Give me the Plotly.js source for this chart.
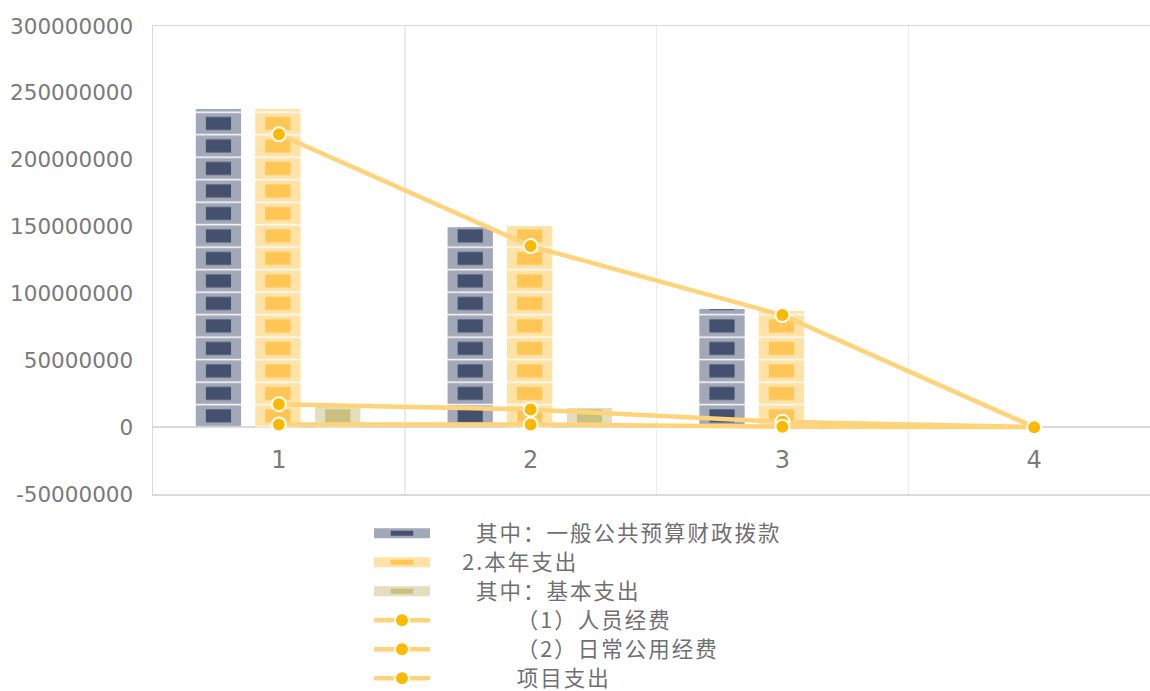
<!DOCTYPE html>
<html>
<head>
<meta charset="utf-8">
<script src="https://cdn.plot.ly/plotly-3.0.1.min.js"></script>
<style>
html,body{margin:0;padding:0;background:#ffffff;}
#chart{width:1150px;height:691px;}
.legendtext{font-size:21.5px !important;letter-spacing:2px;}
</style>
</head>
<body>
<div id="chart"></div>
<script>
// ---------------- data ----------------
const categories = ['1', '2', '3', '4'];
const seriesNames = [
  '其中：一般公共预算财政拨款',
  '2.本年支出',
  '其中：基本支出',
  '（1）人员经费',
  '（2）日常公用经费',
  '项目支出'
];
const fiscalAppropriation = [237.9e6, 149.5e6, 88.3e6, 0];
const annualExpenditure   = [238.0e6, 150.4e6, 86.8e6, 0];
const basicExpenditure    = [17.2e6, 14.4e6, 3.0e6, 0];
const personnelExpense    = [17.2e6, 13.2e6, 4.0e6, 0];
const dailyPublicExpense  = [2.0e6, 2.0e6, 0.3e6, 0];
const projectExpenditure  = [219.0e6, 135.4e6, 83.8e6, 0];
const yTickValues = [-50e6, 0, 50e6, 100e6, 150e6, 200e6, 250e6, 300e6];
const yTickLabels = ['-50000000', '0', '50000000', '100000000', '150000000', '200000000', '250000000', '300000000'];

// ---------------- style / geometry ----------------
const H = 691, W = 1150;
const M_T = 11, M_B = 197, M_L = 153;
const PLOT_TOP = 26;                          // pixel of 300000000
const PAPER_H = H - M_B - M_T;                // 483
const MAIN_H = H - M_B - PLOT_TOP;            // 468
const Y_MIN = -50e6, Y_MAX = 300e6;
const Y2_MAX = Y_MIN + (Y_MAX - Y_MIN) * PAPER_H / MAIN_H;
const zeroPx = (H - M_B) - (0 - Y_MIN) / (Y_MAX - Y_MIN) * MAIN_H;   // pixel of 0
const zeroUser = zeroPx - M_T;
const TILE = zeroUser / 18.5;                 // tiles stack from the baseline
const X_RANGE = [-0.5, 3.46];
const W_OUT = 0.18, W_IN = 0.1;
const SEP = 0.065;
const LINE_COLOR = '#ffd37a';
const DOT_COLOR = '#fbb900';
const GREY_TXT = '#7a7a7a';
const LEGEND_FONT = {family: '"Noto Sans CJK SC", "Noto Sans", sans-serif', size: 20, color: '#707070'};

const barSeries = [
  {name: seriesNames[0], values: fiscalAppropriation, outer: '#a2a8b7', inner: '#44506e', center: -0.24, indent: 6},
  {name: seriesNames[1], values: annualExpenditure,   outer: '#ffe2a6', inner: '#ffc656', center: -0.004, indent: 4},
  {name: seriesNames[2], values: basicExpenditure,    outer: '#e3dec0', inner: '#c9bf7f', center: 0.234, indent: 6}
];
const lineSeries = [
  {name: seriesNames[3], values: personnelExpense, indent: 12},
  {name: seriesNames[4], values: dailyPublicExpense, indent: 12},
  {name: seriesNames[5], values: projectExpenditure, indent: 12}
];
const pad = n => '\u00a0'.repeat(n);

const traces = [];
// empty trace so that the framing subplot (x, y) is drawn
traces.push({type: 'scatter', mode: 'markers', x: [null], y: [null], xaxis: 'x', yaxis: 'y', showlegend: false, hoverinfo: 'skip'});
// legend proxies for bars (draw nothing)
barSeries.forEach((s, i) => {
  traces.push({
    type: 'scatter', mode: 'lines+markers', x: [null], y: [null], xaxis: 'x2', yaxis: 'y2',
    name: pad(s.indent) + s.name, legendrank: i + 1,
    line: {color: s.outer, width: 14},
    marker: {symbol: 'line-ew', size: 24, color: s.inner, line: {color: s.inner, width: 7}},
    hoverinfo: 'skip'
  });
});
// bars: outer tile, inner tile, white separators
barSeries.forEach(s => {
  traces.push({
    type: 'bar', x: categories, y: s.values, xaxis: 'x2', yaxis: 'y2', showlegend: false,
    width: W_OUT, offset: s.center - W_OUT / 2, hoverinfo: 'skip',
    marker: {color: s.outer, line: {width: 0},
      pattern: {shape: '-', size: TILE, solidity: SEP, fgcolor: '#ffffff', bgcolor: s.outer, fgopacity: 1, fillmode: 'replace'}}
  });
  traces.push({
    type: 'bar', x: categories, y: s.values, xaxis: 'x2', yaxis: 'y2', showlegend: false,
    width: W_IN, offset: s.center - W_IN / 2, hoverinfo: 'skip',
    marker: {color: s.inner, line: {width: 0},
      pattern: {shape: '-', size: TILE, solidity: 0.42, fgcolor: s.outer, bgcolor: s.inner, fgopacity: 1, fillmode: 'replace'}}
  });
  traces.push({
    type: 'bar', x: categories, y: s.values, xaxis: 'x2', yaxis: 'y2', showlegend: false,
    width: W_IN, offset: s.center - W_IN / 2, hoverinfo: 'skip',
    marker: {color: 'rgba(0,0,0,0)', line: {width: 0},
      pattern: {shape: '-', size: TILE, solidity: SEP, fgcolor: '#ffffff', bgcolor: 'rgba(0,0,0,0)', fgopacity: 1, fillmode: 'replace'}}
  });
});
lineSeries.forEach((s, i) => {
  traces.push({
    type: 'scatter', mode: 'lines+markers', x: categories, y: s.values, xaxis: 'x2', yaxis: 'y2',
    name: pad(s.indent) + s.name, legendrank: 4 + i,
    line: {color: LINE_COLOR, width: 4.5},
    marker: {size: 14, color: DOT_COLOR, line: {color: '#ffffff', width: 2}},
    hoverinfo: 'skip'
  });
});

const layout = {
  width: W, height: H,
  margin: {l: M_L, r: 0, t: M_T, b: M_B, pad: 0, autoexpand: false},
  paper_bgcolor: '#ffffff', plot_bgcolor: 'rgba(0,0,0,0)',
  barmode: 'overlay',
  showlegend: true,
  xaxis: {
    type: 'linear', range: X_RANGE, domain: [0, 1], anchor: 'y',
    tickmode: 'array', tickvals: [0.5, 1.5, 2.5], showticklabels: false, ticks: '',
    showgrid: true, gridcolor: '#ebebeb', gridwidth: 1.5,
    showline: true, mirror: true, linecolor: '#d9d9d9', linewidth: 1.5, zeroline: false
  },
  yaxis: {
    type: 'linear', range: [Y_MIN, Y_MAX], domain: [0, MAIN_H / PAPER_H], anchor: 'x',
    tickmode: 'array', tickvals: yTickValues, ticktext: yTickLabels, ticks: '',
    ticklabelstandoff: 14,
    tickfont: {family: '"DejaVu Sans", sans-serif', size: 21.5, color: GREY_TXT},
    showgrid: false, zeroline: true, zerolinecolor: '#d9d9d9', zerolinewidth: 1.5,
    showline: true, linecolor: '#d9d9d9', linewidth: 1.5
  },
  xaxis2: {
    type: 'category', categoryorder: 'array', categoryarray: categories, range: X_RANGE,
    anchor: 'free', position: (H - M_B - zeroPx) / PAPER_H, domain: [0, 1],
    showgrid: false, zeroline: false, showline: false, ticks: '', ticklabelstandoff: 16,
    tickfont: {family: '"DejaVu Sans", sans-serif', size: 24, color: GREY_TXT}
  },
  yaxis2: {type: 'linear', range: [Y_MIN, Y2_MAX], domain: [0, 1], anchor: 'x2', visible: false},
  legend: {
    x: (369 - M_L) / (W - M_L), xanchor: 'left',
    y: -0.041, yanchor: 'top',
    orientation: 'v', traceorder: 'normal', itemwidth: 56,
    font: LEGEND_FONT, bgcolor: 'rgba(0,0,0,0)', borderwidth: 0,
    itemclick: false, itemdoubleclick: false
  }
};

Plotly.newPlot('chart', traces, layout, {displayModeBar: false, staticPlot: true});
</script>
</body>
</html>
